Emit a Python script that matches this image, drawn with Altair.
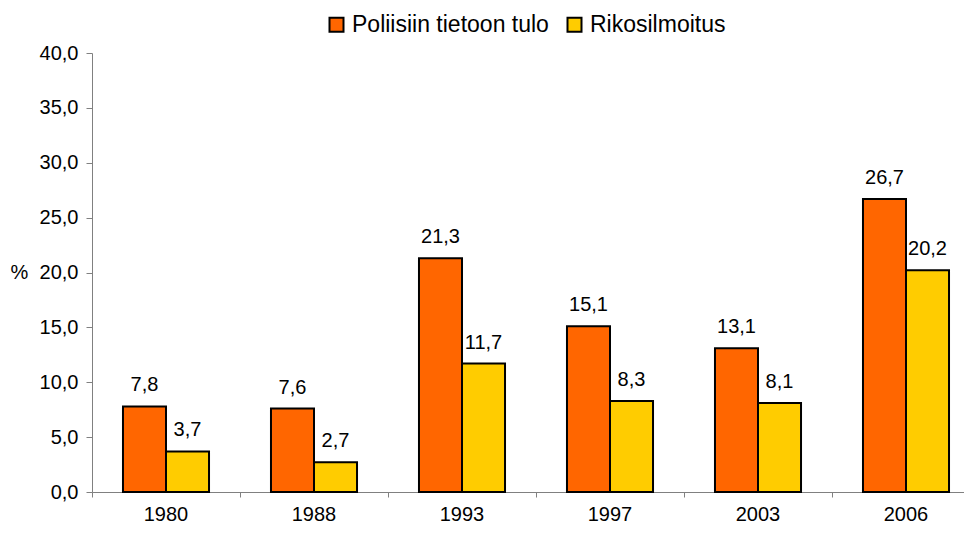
import altair as alt
import pandas as pd

years = ["1980", "1988", "1993", "1997", "2003", "2006"]
series = ["Poliisiin tietoon tulo", "Rikosilmoitus"]
poliisi = [7.8, 7.6, 21.3, 15.1, 13.1, 26.7]
riko = [3.7, 2.7, 11.7, 8.3, 8.1, 20.2]
colors = ["#FF6600", "#FFCC00"]
y_ticks = [0, 5, 10, 15, 20, 25, 30, 35, 40]

rows = []
for i, yr in enumerate(years):
    rows.append({"year": yr, "series": series[0], "value": poliisi[i]})
    rows.append({"year": yr, "series": series[1], "value": riko[i]})
df = pd.DataFrame(rows)

FONT = "Liberation Sans"
AX = "#808080"

base = alt.Chart(df).transform_calculate(
    label="replace(format(datum.value, '.1f'), '.', ',')"
).encode(
    x=alt.X(
        "year:N",
        sort=years,
        scale=alt.Scale(range=[0, 888], paddingInner=0, paddingOuter=0),
        axis=alt.Axis(
            title=None,
            labelAngle=0,
            labelFontSize=20,
            labelColor="black",
            labelPadding=7,
            tickSize=5,
            tickColor=AX,
            domainColor=AX,
            tickWidth=1,
            domainWidth=1,
            bandPosition=0,
            grid=False,
        ),
    ),
    xOffset=alt.XOffset(
        "series:N", sort=series, scale=alt.Scale(paddingInner=0, paddingOuter=0.72)
    ),
    y=alt.Y(
        "value:Q",
        scale=alt.Scale(domain=[0, 40], nice=False),
        axis=alt.Axis(
            title="%",
            titleAngle=0,
            titleAlign="left",
            titleBaseline="middle",
            titleX=-82,
            titleY=219.5,
            titleFontSize=20,
            titleFontWeight="normal",
            titleColor="black",
            values=y_ticks,
            labelExpr="replace(format(datum.value, '.1f'), '.', ',')",
            labelFontSize=20,
            labelColor="black",
            labelPadding=8,
            tickSize=6,
            tickColor=AX,
            domainColor=AX,
            grid=False,
        ),
    ),
)

bars = base.mark_bar(stroke="black", strokeWidth=2, opacity=1).encode(
    color=alt.Color(
        "series:N",
        sort=series,
        scale=alt.Scale(domain=series, range=colors),
        legend=alt.Legend(
            title=None,
            orient="none",
            direction="horizontal",
            legendX=233,
            legendY=-40,
            symbolType="square",
            symbolSize=196,
            symbolStrokeColor="black",
            symbolStrokeWidth=2,
            symbolOpacity=1,
            labelFontSize=23,
            labelColor="black",
            labelOffset=4,
            labelLimit=400,
            columnPadding=14,
            padding=0,
        ),
    )
)

texts = base.mark_text(dy=-15, baseline="alphabetic", fontSize=20, color="black").encode(
    text="label:N"
)

chart = (
    alt.layer(bars, texts)
    .properties(
        width=872,
        height=439,
        autosize=alt.AutoSizeParams(type="none"),
        padding={"left": 84, "top": 45, "right": 0, "bottom": 33},
    )
    .configure(font=FONT)
    .configure_view(stroke=None)
)

chart.save("out.html", embed_options={"renderer": "svg", "actions": False})
